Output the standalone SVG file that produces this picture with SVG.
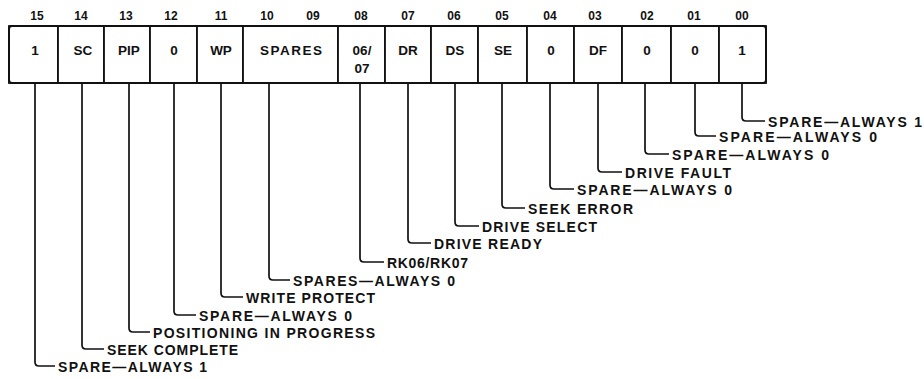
<svg xmlns="http://www.w3.org/2000/svg" width="924" height="379" viewBox="0 0 924 379">
<style>
.cell{fill:#fff;stroke:#111;stroke-width:1.8}
.frame{fill:none;stroke:#111;stroke-width:2}
.bit{font-family:"Liberation Sans",Arial,sans-serif;font-weight:bold;font-size:12px;fill:#111;text-anchor:middle}
.val{font-family:"Liberation Sans",Arial,sans-serif;font-weight:bold;font-size:13.5px;fill:#111;text-anchor:middle}
.lbl{font-family:"Liberation Sans",Arial,sans-serif;font-weight:bold;font-size:14px;fill:#111}
.conn{fill:none;stroke:#111;stroke-width:1.7}
</style>
<rect width="924" height="379" fill="#fff"/>
<g id="b15"><rect class="cell" x="9" y="26" width="49" height="57"/><text class="bit" x="37" y="20">15</text><text class="val" x="35" y="55">1</text><text class="lbl" x="58" y="371.5" textLength="149" lengthAdjust="spacing">SPARE—ALWAYS 1</text></g>
<g id="b14"><rect class="cell" x="58" y="26" width="46" height="57"/><text class="bit" x="81" y="20">14</text><text class="val" x="83" y="55">SC</text><text class="lbl" x="107" y="354.5" textLength="131" lengthAdjust="spacing">SEEK COMPLETE</text></g>
<g id="b13"><rect class="cell" x="104" y="26" width="46" height="57"/><text class="bit" x="126" y="20">13</text><text class="val" x="129" y="55">PIP</text><text class="lbl" x="153" y="337.5" textLength="222" lengthAdjust="spacing">POSITIONING IN PROGRESS</text></g>
<g id="b12"><rect class="cell" x="150" y="26" width="47" height="57"/><text class="bit" x="171" y="20">12</text><text class="val" x="174" y="55">0</text><text class="lbl" x="199" y="320.5" textLength="153" lengthAdjust="spacing">SPARE—ALWAYS 0</text></g>
<g id="b11"><rect class="cell" x="197" y="26" width="46" height="57"/><text class="bit" x="221" y="20">11</text><text class="val" x="221" y="55">WP</text><text class="lbl" x="246" y="302.5" textLength="129" lengthAdjust="spacing">WRITE PROTECT</text></g>
<g id="b10-09"><rect class="cell" x="243" y="26" width="95" height="57"/><text class="bit" x="267" y="20">10</text><text class="bit" x="313" y="20">09</text><text class="val" x="291" y="55" textLength="62" lengthAdjust="spacing">SPARES</text><text class="lbl" x="293" y="285.5" textLength="162" lengthAdjust="spacing">SPARES—ALWAYS 0</text></g>
<g id="b08"><rect class="cell" x="338" y="26" width="47" height="57"/><text class="bit" x="361" y="20">08</text><text class="val" x="362" y="55">06/</text><text class="val" x="362" y="73">07</text><text class="lbl" x="387" y="267.5" textLength="81" lengthAdjust="spacing">RK06/RK07</text></g>
<g id="b07"><rect class="cell" x="385" y="26" width="46" height="57"/><text class="bit" x="408" y="20">07</text><text class="val" x="408" y="55">DR</text><text class="lbl" x="434" y="248.5" textLength="108" lengthAdjust="spacing">DRIVE READY</text></g>
<g id="b06"><rect class="cell" x="431" y="26" width="47" height="57"/><text class="bit" x="454" y="20">06</text><text class="val" x="455" y="55">DS</text><text class="lbl" x="482" y="231.5" textLength="115" lengthAdjust="spacing">DRIVE SELECT</text></g>
<g id="b05"><rect class="cell" x="478" y="26" width="49" height="57"/><text class="bit" x="502" y="20">05</text><text class="val" x="503" y="55">SE</text><text class="lbl" x="528" y="213.5" textLength="105" lengthAdjust="spacing">SEEK ERROR</text></g>
<g id="b04"><rect class="cell" x="527" y="26" width="47" height="57"/><text class="bit" x="550" y="20">04</text><text class="val" x="551" y="55">0</text><text class="lbl" x="577" y="194.5" textLength="155" lengthAdjust="spacing">SPARE—ALWAYS 0</text></g>
<g id="b03"><rect class="cell" x="574" y="26" width="48" height="57"/><text class="bit" x="595" y="20">03</text><text class="val" x="598" y="55">DF</text><text class="lbl" x="625" y="177.5" textLength="106" lengthAdjust="spacing">DRIVE FAULT</text></g>
<g id="b02"><rect class="cell" x="622" y="26" width="49" height="57"/><text class="bit" x="647" y="20">02</text><text class="val" x="647" y="55">0</text><text class="lbl" x="672" y="159.5" textLength="157" lengthAdjust="spacing">SPARE—ALWAYS 0</text></g>
<g id="b01"><rect class="cell" x="671" y="26" width="48" height="57"/><text class="bit" x="694" y="20">01</text><text class="val" x="695" y="55">0</text><text class="lbl" x="719" y="141.5" textLength="158" lengthAdjust="spacing">SPARE—ALWAYS 0</text></g>
<g id="b00"><rect class="cell" x="719" y="26" width="47" height="57"/><text class="bit" x="742" y="20">00</text><text class="val" x="742" y="55">1</text><text class="lbl" x="768" y="126.5" textLength="154" lengthAdjust="spacing">SPARE—ALWAYS 1</text></g>
<rect class="frame" x="9" y="26" width="757" height="57" rx="3"/>
<g id="connectors">
<path class="conn" d="M35 83V362Q35 366 39 366H55"/>
<path class="conn" d="M82 83V345Q82 349 86 349H104"/>
<path class="conn" d="M129 83V328Q129 332 133 332H150"/>
<path class="conn" d="M174 83V311Q174 315 178 315H196"/>
<path class="conn" d="M221 83V293Q221 297 225 297H243"/>
<path class="conn" d="M269 83V276Q269 280 273 280H290"/>
<path class="conn" d="M360 83V258Q360 262 364 262H384"/>
<path class="conn" d="M408 83V239Q408 243 412 243H431"/>
<path class="conn" d="M455 83V222Q455 226 459 226H479"/>
<path class="conn" d="M502 83V204Q502 208 506 208H525"/>
<path class="conn" d="M550 83V185Q550 189 554 189H574"/>
<path class="conn" d="M598 83V168Q598 172 602 172H622"/>
<path class="conn" d="M645 83V150Q645 154 649 154H669"/>
<path class="conn" d="M695 83V132Q695 136 699 136H716"/>
<path class="conn" d="M742 83V117Q742 121 746 121H765"/>
</g>
</svg>
